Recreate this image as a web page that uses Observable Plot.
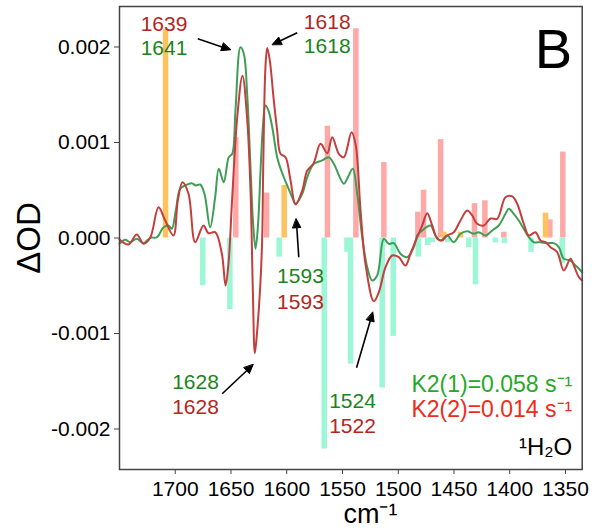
<!DOCTYPE html>
<html><head><meta charset="utf-8">
<script src="https://cdn.jsdelivr.net/npm/d3@7"></script>
<script src="https://cdn.jsdelivr.net/npm/@observablehq/plot@0.6"></script>
<style>body{margin:0;background:#fff} svg{display:block}</style>
</head><body><div id="chart"></div>
<script>
// Red spectrum (K2(2))
const redWn = [1750,1742,1734.5,1728.5,1722.5,1715,1709,1701.6,1697.7,1693.5,1688.1,1682.1,1674.7,1670.2,1664.2,1658.2,1654.9,1652.2,1648.9,1644.4,1639.7,1635.5,1632.5,1630.4,1628.6,1626.5,1623.5,1622,1621.1,1619.1,1617.5,1615.2,1611.6,1608.6,1605.6,1601.1,1596.6,1592.1,1586.1,1581.6,1576,1569.7,1563.7,1559.2,1553.3,1548.8,1541.9,1538.3,1533.8,1529.4,1521.9,1517.4,1511.4,1505.4,1499.5,1493.5,1489,1483,1478.5,1474,1469.5,1465,1460.6,1456.1,1450.2,1444.2,1438.1,1433.7,1429.2,1423.3,1417.2,1411.2,1403.8,1397.8,1393.3,1387.4,1382.9,1376.9,1372.4,1367.9,1363.4,1357.4,1351.5,1345.5,1342.5,1338,1335];
const redOD = [-0.000016,-0.000068,0.000037,-0.000061,0.000002,0.000323,0.000183,0.000026,0.000393,0.000584,0.000463,-0.000044,0.000131,0.00005,0.000061,-0.000165,-0.000497,-0.00026,0.000427,0.001265,0.0017,0.00125,0.0005,-0.00055,-0.001206,-0.000969,-0.000445,0.000008,0.000741,0.001788,0.00199,0.001859,0.00144,0.001126,0.000882,0.000846,0.000602,0.000351,0.000497,0.000707,0.00078,0.000986,0.000888,0.001055,0.000882,0.000846,0.001108,0.000986,0.000288,-0.00027,-0.000662,-0.000568,-0.000306,-0.000183,-0.000201,-0.000288,-0.000165,0.000008,0.000131,0.00026,0.000131,-0.000008,-0.000026,0.000026,0.000061,0.000183,0.000288,0.000236,0.000149,0.000131,0.000204,0.000201,0.000427,0.000435,0.000358,0.000149,0.000026,0.000061,-0.000026,-0.000044,-0.000096,-0.000149,-0.00034,-0.000218,-0.000288,-0.00041,-0.000445];

// Green spectrum (K2(1))
const greenWn = [1750,1744.9,1740.4,1734.5,1728.5,1722.5,1716.5,1710.5,1706.1,1703.1,1699.5,1695.6,1691.1,1685.2,1681.6,1677.6,1673.8,1668.7,1664.2,1660.9,1656.5,1652,1648.9,1646,1641.5,1638.5,1635.5,1632.5,1630.3,1628,1625.8,1623.5,1621.3,1619.1,1616.4,1613,1608.6,1605.6,1599.6,1595.1,1592.1,1586.1,1581.6,1575.7,1568.2,1562.3,1557.8,1548.8,1545.8,1540.8,1536.8,1532.3,1527.8,1523.4,1518.9,1512.9,1508.5,1504,1498,1492,1486,1483,1478.5,1471.1,1466.6,1462.1,1456.1,1450.2,1444.2,1438.1,1432.2,1427.7,1421.7,1415.7,1409.8,1403.8,1400.8,1396.4,1391.9,1387.4,1382.9,1378.4,1372.4,1366.4,1360.5,1356,1351.5,1345.5,1341,1338,1335];
const greenOD = [-0.000061,-0.000019,-0.000044,-0.000008,-0.000054,0.000002,0.000008,0.000113,0.000131,0.000096,0.000288,0.000515,0.00055,0.000574,0.00055,0.00056,0.000463,0.000113,0.000427,0.000725,0.000584,0.000846,0.000882,0.001335,0.001998,0.001929,0.00151,0.000741,0.00018,-0.000113,0.00013,0.000707,0.00118,0.001387,0.001335,0.00116,0.000846,0.000728,0.00055,0.000427,0.000358,0.000463,0.000637,0.000777,0.000812,0.000846,0.000777,0.000568,0.00062,0.000725,0.000463,0.000008,-0.000306,-0.000445,-0.000393,-0.000008,-0.000061,-0.000054,-0.000165,-0.000201,-0.000096,0.000026,0.000079,0.000131,0.000026,-0.000026,0.000026,-0.000044,0.000044,0.000071,0.000044,0.000061,0.000026,0.000079,0.000131,0.000253,0.000306,0.000253,0.000183,0.000096,0.000008,-0.000044,-0.000044,-0.000054,-0.000054,-0.000096,-0.000218,-0.000236,-0.000288,-0.000322,-0.00036];

// Stick spectra
const pinkWn = [1645.7,1618.1,1563.5,1538,1512.9,1482.4,1477.3,1462,1431.6,1422.3,1405.3,1364,1352.4];
const pinkOD = [0.00105,0.00047,0.00117,0.00219,0.00079,0.00027,0.0005,0.00103,0.00036,0.00039,0.00006,0.00019,0.0009];
const orangeWn = [1708.7,1602.3,1459.1,1444.2,1367.9];
const orangeOD = [0.00218,0.00055,0.00006,0.00006,0.00026];
const mintWn = [1675.3,1651,1606.8,1566.4,1546,1542.8,1514.4,1504.5,1482,1473.5,1469.5,1455.5,1436.7,1430.7,1412.8,1404.7,1380.9,1352.9];
const mintOD = [-0.0005,-0.00075,-0.0002,-0.00221,-0.00015,-0.00132,-0.00157,-0.00103,-0.0002,-0.00008,-0.00005,-0.00005,-0.0001,-0.00049,-0.00005,-0.00006,-0.00015,-0.00027];

// Ticks
const xTicks = [1700,1650,1600,1550,1500,1450,1400,1350];
const yTicks = [-0.002,-0.001,0,0.001,0.002];

// Peak annotations
const redLabels = ["1639","1618","1593","1628","1522"];
const redLabelWn = [1710.1,1563.7,1587.7,1681.8,1541];
const redLabelOD = [0.00224,0.00226,-0.000668,-0.001772,-0.001974];
const greenLabels = ["1641","1618","1593","1628","1524"];
const greenLabelWn = [1710.1,1563.7,1587.7,1681.8,1541];
const greenLabelOD = [0.00199,0.002005,-0.000403,-0.001506,-0.00171];

// Arrows (tail -> tip)
const arrowX1 = [1679.8,1590.6,1589.2,1657.9,1537.4];
const arrowY1 = [0.002086,0.002149,-0.000201,-0.001631,-0.001359];
const arrowX2 = [1650.4,1613.0,1591.5,1630.1,1522.8];
const arrowY2 = [0.001971,0.002026,0.000201,-0.001325,-0.000777];

const xDomain = [1750, 1335];
const yDomain = [-0.002424, 0.002424];
const W = 592, H = 531, mL = 119, mR = 10.3, mT = 6, mB = 62;

const zip = (xs, ys) => xs.map((x, i) => ({x, y: ys[i]}));
const redLine = zip(redWn, redOD);
const greenLine = zip(greenWn, greenOD);
const pink = zip(pinkWn, pinkOD);
const orange = zip(orangeWn, orangeOD);
const mint = zip(mintWn, mintOD);
const redLab = redLabels.map((t, i) => ({t, x: redLabelWn[i], y: redLabelOD[i]}));
const greenLab = greenLabels.map((t, i) => ({t, x: greenLabelWn[i], y: greenLabelOD[i]}));

// use Plot's own scales to orient filled arrow heads
const sx = Plot.scale({x: {domain: xDomain, range: [mL, W - mR]}});
const sy = Plot.scale({y: {domain: yDomain, range: [H - mB, mT]}});
const HEAD = 9;
const arrows = arrowX1.map((x1, i) => {
  const px1 = sx.apply(x1), py1 = sy.apply(arrowY1[i]);
  const px2 = sx.apply(arrowX2[i]), py2 = sy.apply(arrowY2[i]);
  const dx = px2 - px1, dy = py2 - py1, L = Math.hypot(dx, dy);
  const ux = dx / L, uy = dy / L;
  const bx = px2 - ux * HEAD, by = py2 - uy * HEAD;   // base of head
  return {
    x1, y1: arrowY1[i],
    xb: sx.invert(bx), yb: sy.invert(by),
    head: [[px2, py2], [bx - uy * 4, by + ux * 4], [bx + uy * 4, by - ux * 4]]
      .map(([a, b]) => ({x: sx.invert(a), y: sy.invert(b), id: i}))
  };
});
const heads = arrows.flatMap(a => a.head);

const font = "'Liberation Sans', Arial, Helvetica, sans-serif";

const chart = Plot.plot({
  width: W, height: H,
  marginLeft: mL, marginRight: mR, marginTop: mT, marginBottom: mB,
  style: {fontFamily: font, background: "#fff", color: "#000"},
  x: {domain: xDomain},
  y: {domain: yDomain},
  marks: [
    Plot.ruleX(pink, {x: "x", y1: 0, y2: "y", stroke: "#ffa8a8", strokeWidth: 5.5}),
    Plot.ruleX(orange, {x: "x", y1: 0, y2: "y", stroke: "#ffc35e", strokeWidth: 5.5}),
    Plot.ruleX(mint, {x: "x", y1: 0, y2: "y", stroke: "#9cf7d6", strokeWidth: 5.5}),
    Plot.line(greenLine, {x: "x", y: "y", stroke: "#3f9e55", strokeWidth: 2, curve: "catmull-rom"}),
    Plot.line(redLine, {x: "x", y: "y", stroke: "#c43e3e", strokeWidth: 2, curve: "catmull-rom"}),
    Plot.link(arrows, {x1: "x1", y1: "y1", x2: "xb", y2: "yb", stroke: "#000", strokeWidth: 1.6}),
    Plot.line(heads, {x: "x", y: "y", z: "id", fill: "#000", stroke: "#000", strokeWidth: 1, curve: "linear-closed"}),
    Plot.text(redLab, {x: "x", y: "y", text: "t", fill: "#b3261e", fontSize: 21}),
    Plot.text(greenLab, {x: "x", y: "y", text: "t", fill: "#1c841c", fontSize: 21}),
    Plot.axisX({ticks: xTicks, tickFormat: d => String(d), tickSize: 5, tickPadding: 7, fontSize: 21, label: null, stroke: "#444"}),
    Plot.axisY({ticks: yTicks, tickFormat: d => d.toFixed(3), tickSize: 5, tickPadding: 4, fontSize: 21, label: null, stroke: "#444"}),
    Plot.frame({stroke: "#444", strokeWidth: 1.5}),
    Plot.text(["ΔOD"], {frameAnchor: "left", dx: -90, rotate: -90, textAnchor: "middle", lineAnchor: "middle", fontSize: 33, fill: "#000"}),
    Plot.text(["cm⁻¹"], {frameAnchor: "bottom-left", dx: 224, dy: 45, textAnchor: "start", lineAnchor: "middle", fontSize: 27, fill: "#000"}),
    Plot.text(["B"], {frameAnchor: "top-right", dx: -10, dy: 22, textAnchor: "end", lineAnchor: "top", fontSize: 56, fill: "#000"}),
    Plot.text(["K2(1)=0.058 s⁻¹"], {frameAnchor: "bottom-right", dx: -10, dy: -85, textAnchor: "end", lineAnchor: "middle", fontSize: 23, fill: "#27a827"}),
    Plot.text(["K2(2)=0.014 s⁻¹"], {frameAnchor: "bottom-right", dx: -10, dy: -60, textAnchor: "end", lineAnchor: "middle", fontSize: 23, fill: "#ec2c1c"}),
    Plot.text(["¹H₂O"], {frameAnchor: "bottom-right", dx: -10, dy: -22, textAnchor: "end", lineAnchor: "middle", fontSize: 24, fill: "#000"})
  ]
});
document.getElementById("chart").append(chart);
</script>
</body></html>
